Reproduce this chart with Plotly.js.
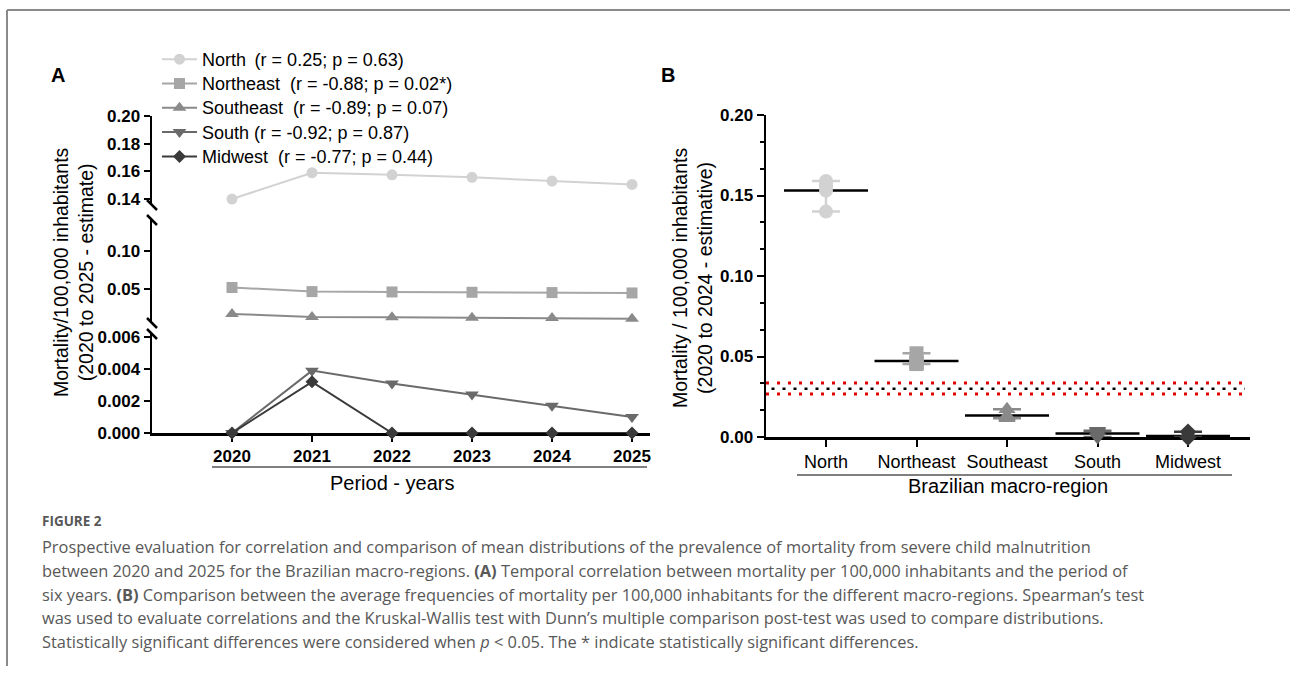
<!DOCTYPE html>
<html><head><meta charset="utf-8">
<script src="https://cdn.plot.ly/plotly-3.0.1.min.js"></script>
<style>html,body{margin:0;padding:0;background:#fff;} #chart{width:1290px;height:675px;}</style>
</head><body><div id="chart"></div>
<script>
// ---------- data ----------
const years = [2020, 2021, 2022, 2023, 2024, 2025];
const regions = ['North', 'Northeast', 'Southeast', 'South', 'Midwest'];
const north     = [0.1400, 0.1590, 0.1575, 0.1557, 0.1530, 0.1506];
const northeast = [0.0520, 0.0466, 0.0461, 0.0457, 0.0453, 0.0448];
const southeast = [0.0172, 0.0132, 0.0127, 0.0122, 0.0117, 0.0108];
const south     = [0.0000, 0.0039, 0.0031, 0.0024, 0.0017, 0.0010];
const midwest   = [0.0000, 0.0032, 0.0000, 0.0000, 0.0000, 0.0000];
const legendStats = ['(r = 0.25; p = 0.63)', '(r = -0.88; p = 0.02*)', '(r = -0.89; p = 0.07)', '(r = -0.92; p = 0.87)', '(r = -0.77; p = 0.44)'];
const yearsB = 5; // panel B uses 2020 to 2024
const refMean = 0.0300, refLow = 0.0267, refHigh = 0.0335;
const yTicksTop = [0.14, 0.16, 0.18, 0.20];
const yTicksMid = [0.05, 0.10];
const yTicksBot = [0.000, 0.002, 0.004, 0.006];

// ---------- helpers / styles ----------
const W = 1290, H = 675;
const px = x => x / W, py = y => 1 - y / H;
const F = 'Liberation Sans, Arial, sans-serif';
const CF = 'Open Sans, Lato, sans-serif';
const series = [north, northeast, southeast, south, midwest];
const colors = ['#d2d2d2', '#a6a6a6', '#8a8a8a', '#6a6a6a', '#3a3a3a'];
const symbols = ['circle', 'square', 'triangle-up', 'triangle-down', 'diamond'];
const sizesA = [11, 11, 12, 12, 10];
const sizesB = [14, 14, 15, 15, 13];
const yAx = ['y', 'y2', 'y2', 'y3', 'y3'];
const gaps = ['\u00a0\u2009', '\u00a0\u00a0', '\u00a0\u00a0', '\u00a0', '\u00a0\u00a0'];

const traces = [];
regions.forEach((r, i) => {
  traces.push({
    x: years, y: series[i], type: 'scatter', mode: 'lines+markers',
    name: '<span style="font-size:18px">' + r + gaps[i] + legendStats[i] + '</span>', xaxis: 'x', yaxis: yAx[i],
    line: {color: colors[i], width: 2},
    marker: {color: colors[i], symbol: symbols[i], size: sizesA[i]},
    cliponaxis: false, legendgroup: 'g' + i
  });
});
// panel B
regions.forEach((r, i) => {
  const vals = series[i].slice(0, yearsB);
  const mean = vals.reduce((a, b) => a + b, 0) / vals.length;
  const mn = Math.min(...vals), mx = Math.max(...vals);
  traces.push({
    x: [r], y: [mean], type: 'scatter', mode: 'markers', xaxis: 'x2', yaxis: 'y4', showlegend: false,
    marker: {symbol: 'line-ew', size: 60, color: '#000', line: {width: 2.5, color: '#000'}}, cliponaxis: false
  });
  traces.push({
    x: [r], y: [mean], type: 'scatter', mode: 'markers', xaxis: 'x2', yaxis: 'y4', showlegend: false,
    marker: {size: 1, opacity: 0},
    error_y: {type: 'data', symmetric: false, array: [mx - mean], arrayminus: [mean - mn], color: colors[i], thickness: 2.5, width: 14},
    cliponaxis: false
  });
  traces.push({
    x: vals.map(() => r), y: vals, type: 'scatter', mode: 'markers', xaxis: 'x2', yaxis: 'y4', showlegend: false,
    marker: {color: colors[i], symbol: symbols[i], size: sizesB[i]}, cliponaxis: false
  });
});

const axBase = {
  showline: true, linewidth: 2.5, linecolor: '#000', ticks: 'outside', ticklen: 7, tickwidth: 2, tickcolor: '#000',
  showgrid: false, zeroline: false, fixedrange: true, layer: 'below traces'
};
const boldTick = {family: F, size: 17, weight: 'bold', color: '#000'};

const shapes = [
  // frame
  {type: 'line', xref: 'paper', yref: 'paper', x0: px(7), x1: px(1290), y0: py(10), y1: py(10), line: {color: '#8a8a8a', width: 2}},
  {type: 'line', xref: 'paper', yref: 'paper', x0: px(7), x1: px(7), y0: py(10), y1: py(666), line: {color: '#8a8a8a', width: 2}},
  // axis-title underlines
  {type: 'line', xref: 'paper', yref: 'paper', x0: px(212), x1: px(647), y0: py(467), y1: py(467), line: {color: '#000', width: 1}},
  {type: 'line', xref: 'paper', yref: 'paper', x0: px(797), x1: px(1232), y0: py(475), y1: py(475), line: {color: '#000', width: 1}},
  // reference band in panel B
  {type: 'line', xref: 'paper', yref: 'y4', x0: px(766), x1: px(1245), y0: refHigh, y1: refHigh, line: {color: '#e00000', width: 3, dash: '3px,8px'}},
  {type: 'line', xref: 'paper', yref: 'y4', x0: px(766), x1: px(1245), y0: refMean, y1: refMean, line: {color: '#000', width: 2.5, dash: '0px,5.5px,3px,2.5px'}},
  {type: 'line', xref: 'paper', yref: 'y4', x0: px(766), x1: px(1245), y0: refLow, y1: refLow, line: {color: '#e00000', width: 3, dash: '3px,8px'}}
];
// axis break marks (panel A)
[205, 220, 323, 334].forEach(yb => {
  shapes.push({type: 'line', xref: 'paper', yref: 'paper', x0: px(147), x1: px(157), y0: py(yb - 5), y1: py(yb + 5), line: {color: '#000', width: 2.5}});
});

const ann = (x, y, text, font, extra) => Object.assign({xref: 'paper', yref: 'paper', x: px(x), y: py(y), text: text, showarrow: false, xanchor: 'center', yanchor: 'middle', font: font}, extra || {});
const capFont = {family: CF, size: 16.4, color: '#585858'};
const capLines = [
  'Prospective evaluation for correlation and comparison of mean distributions of the prevalence of mortality from severe child malnutrition',
  'between 2020 and 2025 for the Brazilian macro-regions. <b>(A)</b> Temporal correlation between mortality per 100,000 inhabitants and the period of',
  'six years. <b>(B)</b> Comparison between the average frequencies of mortality per 100,000 inhabitants for the different macro-regions. Spearman\u2019s test',
  'was used to evaluate correlations and the Kruskal-Wallis test with Dunn\u2019s multiple comparison post-test was used to compare distributions.',
  'Statistically significant differences were considered when <i>p</i> &lt; 0.05. The * indicate statistically significant differences.'
];
const capY = [546, 570, 594, 617, 641];
const annotations = [
  ann(58, 75, '<b>A</b>', {family: F, size: 20, color: '#000'}),
  ann(668, 75, '<b>B</b>', {family: F, size: 20, color: '#000'}),
  ann(73, 272, 'Mortality/100,000 inhabitants<br>(2020 to 2025 - estimate)', {family: F, size: 19.5, color: '#000'}, {textangle: -90}),
  ann(392, 483, 'Period - years', {family: F, size: 20, color: '#000'}),
  ann(692, 278, 'Mortality / 100,000 inhabitants<br>(2020 to 2024 - estimative)', {family: F, size: 19.5, color: '#000'}, {textangle: -90}),
  ann(1008, 486, 'Brazilian macro-region', {family: F, size: 20, color: '#000'}),
  ann(40, 521, 'FIGURE 2', {family: CF, size: 13.5, color: '#585858', weight: 'bold'}, {xanchor: 'left'})
];
capLines.forEach((t, i) => annotations.push(ann(40, capY[i], t, capFont, {xanchor: 'left'})));

const layout = {
  width: W, height: H, autosize: false,
  margin: {l: 0, r: 0, t: 0, b: 0, pad: 0},
  paper_bgcolor: '#fff', plot_bgcolor: 'rgba(0,0,0,0)',
  showlegend: true,
  legend: {x: px(157), y: py(42), xanchor: 'left', yanchor: 'top', bgcolor: 'rgba(0,0,0,0)', font: {family: F, size: 16.4, color: '#000'}, traceorder: 'normal', tracegroupgap: 0, itemclick: false, itemwidth: 35},
  xaxis: Object.assign({}, axBase, {domain: [px(152), px(650)], range: [2019, 2025.225], anchor: 'y3', tickvals: years, ticktext: years.map(String), tickfont: boldTick, ticklen: 6}),
  yaxis: Object.assign({}, axBase, {domain: [py(205), py(116)], range: [0.1357, 0.20], anchor: 'x', tickvals: yTicksTop, tickformat: '.2f', tickfont: boldTick, ticklen: 6}),
  yaxis2: Object.assign({}, axBase, {domain: [py(323), py(220)], range: [0.00526, 0.1408], anchor: 'x', tickvals: yTicksMid, tickformat: '.2f', tickfont: boldTick, ticklen: 6}),
  yaxis3: Object.assign({}, axBase, {domain: [py(433), py(334)], range: [0, 0.00619], anchor: 'x', tickvals: yTicksBot, tickformat: '.3f', tickfont: boldTick, ticklen: 6}),
  xaxis2: Object.assign({}, axBase, {domain: [px(766), px(1250)], type: 'category', categoryorder: 'array', categoryarray: regions, range: [-0.663, 4.685], anchor: 'y4', tickfont: {family: F, size: 18, color: '#000'}}),
  yaxis4: Object.assign({}, axBase, {domain: [py(437), py(115)], range: [0, 0.20], anchor: 'x2', tick0: 0, dtick: 0.05, tickformat: '.2f', tickfont: boldTick,
    minor: {dtick: 0.05 / 3, tick0: 0, ticks: 'outside', ticklen: 4, tickwidth: 2, tickcolor: '#000'}}),
  shapes: shapes,
  annotations: annotations
};

Plotly.newPlot('chart', traces, layout, {displayModeBar: false, staticPlot: true});
</script>
</body></html>
